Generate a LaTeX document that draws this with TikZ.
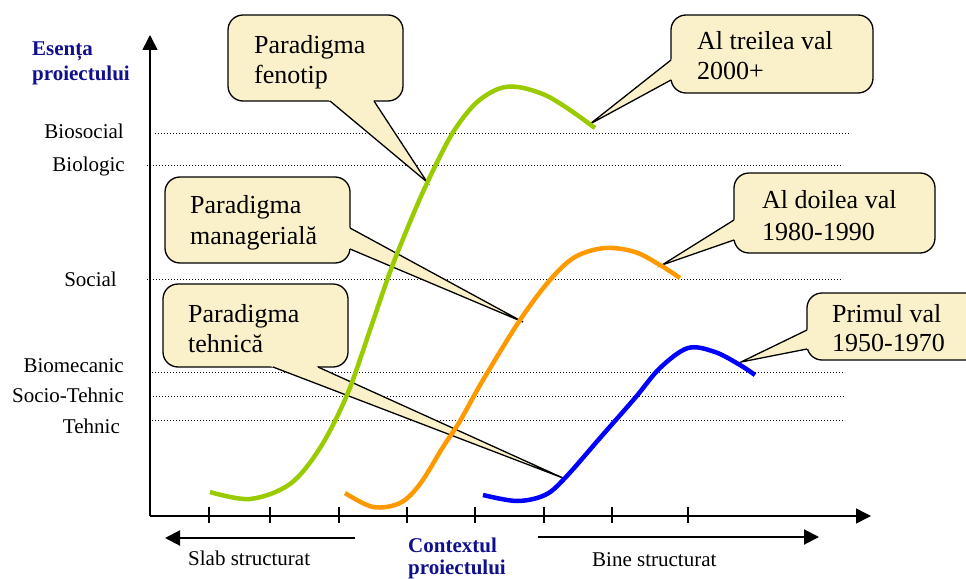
\documentclass[tikz,border=0pt]{standalone}
\usepackage{fontspec}
\setmainfont{Liberation Serif}
\usetikzlibrary{arrows.meta,calc}
\definecolor{cfill}{RGB}{250,240,202}
\definecolor{navy}{RGB}{16,16,140}
\definecolor{cgreen}{RGB}{153,204,0}
\definecolor{corange}{RGB}{255,153,0}
\definecolor{cblue}{RGB}{0,0,255}
\newcommand\mytail[3]{%
  \fill[cfill] ($(#1)!-5pt!(#3)$) -- (#3) -- ($(#2)!-5pt!(#3)$) -- cycle;
  \draw[tailline] (#1) -- (#3) -- (#2);}
\begin{document}
\begin{tikzpicture}[x=1pt,y=-1pt,
  guide/.style={line width=1pt, dash pattern=on 1pt off 2pt},
  axisline/.style={line width=1.5pt},
  cbox/.style={draw=black, line width=1.3pt, fill=cfill, rounded corners=15pt, inner sep=0pt},
  tailline/.style={line width=1.3pt, line join=miter},
  ctext/.style={font=\fontsize{26}{30}\selectfont, inner sep=0pt, anchor=base west},
  ylab/.style={font=\fontsize{21}{25}\selectfont, inner sep=0pt, anchor=base east},
  blab/.style={font=\fontsize{21}{25}\selectfont, inner sep=0pt, anchor=base west},
  title/.style={font=\fontsize{21}{25}\selectfont\bfseries, text=navy, inner sep=0pt, anchor=base west},
  curve/.style={line width=4.5pt, line cap=butt},
  bigtip/.style={-{Triangle[length=15pt,width=15pt]}}
]
\clip (0,0) rectangle (966,578);

% guide lines
\draw[guide] (155,133) -- (850,133);
\draw[guide] (147,165) -- (843,165);
\draw[guide] (147,279) -- (843,279);
\draw[guide] (152,372) -- (845,372);
\draw[guide] (150,396) -- (845,396);
\draw[guide] (152,420) -- (845,420);

% axes
\coordinate (O) at (150,516);
\coordinate (ytip) at (150,35);
\coordinate (xtip) at (871,516);
\draw[axisline, bigtip] (O) -- (ytip);
\draw[axisline, bigtip] (O) -- (xtip);
\foreach \tx in {209,270,339,407,475,544,612,688}
  \draw[axisline] (\tx,507) -- (\tx,523);

% bottom arrows
\coordinate (la0) at (355,538);
\coordinate (la1) at (165,538);
\coordinate (ra0) at (538,537);
\coordinate (ra1) at (819,537);
\draw[line width=2pt, bigtip] (la0) -- (la1);
\draw[line width=2pt, bigtip] (ra0) -- (ra1);

% labels
\node[title] (e1) at (32,56) {Esența};
\node[title] (e2) at (32,81) {proiectului};
\node[ylab] (l1) at (124,138) {Biosocial};
\node[ylab] (l2) at (125,171) {Biologic};
\node[ylab] (l3) at (117,286) {Social};
\node[ylab] (l4) at (124,372) {Biomecanic};
\node[ylab] (l5) at (124,402) {Socio-Tehnic};
\node[ylab] (l6) at (120,433) {Tehnic};
\node[blab] (s1) at (188,565) {Slab structurat};
\node[blab] (s2) at (592,566) {Bine structurat};
\node[title] (c1) at (408,552) {Contextul};
\node[title] (c2) at (408,574) {proiectului};

% callouts
\node[cbox, minimum width=175pt, minimum height=86pt] (fen) at (315.5,58) {};
\coordinate (fa) at (330,101); \coordinate (fb) at (374,101); \coordinate (ft) at (427,182);
\mytail{fa}{fb}{ft}
\node[cbox, minimum width=202pt, minimum height=78pt] (tre) at (772,54) {};
\coordinate (ta) at (671,60); \coordinate (tb) at (671,80); \coordinate (tt) at (590,124);
\mytail{ta}{tb}{tt}
\node[cbox, minimum width=201pt, minimum height=80pt] (doi) at (834.5,213) {};
\coordinate (da) at (734,220); \coordinate (db) at (734,240); \coordinate (dt) at (662,265);
\mytail{da}{db}{dt}
\node[cbox, minimum width=200pt, minimum height=67pt] (pri) at (907,326.5) {};
\coordinate (pa) at (807,330); \coordinate (pb) at (807,349); \coordinate (pt) at (741,362);
\mytail{pa}{pb}{pt}
\node[cbox, minimum width=185pt, minimum height=86pt] (man) at (257.5,220) {};
\coordinate (ma) at (350,228); \coordinate (mb) at (350,249); \coordinate (mt) at (523,322);
\mytail{ma}{mb}{mt}
\node[cbox, minimum width=185pt, minimum height=83pt] (teh) at (255.5,325.5) {};
\coordinate (ha) at (273,367); \coordinate (hb) at (318,367); \coordinate (ht) at (563,478);
\mytail{ha}{hb}{ht}

\node[ctext] (fen1) at (254,53) {Paradigma};
\node[ctext] (fen2) at (254,83) {fenotip};
\node[ctext] (tre1) at (697,49) {Al treilea val};
\node[ctext] (tre2) at (697,80) {2000+};
\node[ctext] (doi1) at (762,208) {Al doilea val};
\node[ctext] (doi2) at (762,240) {1980-1990};
\node[ctext] (pri1) at (832,322) {Primul val};
\node[ctext] (pri2) at (832,351) {1950-1970};
\node[ctext] (man1) at (190,213) {Paradigma};
\node[ctext] (man2) at (190,244) {managerială};
\node[ctext] (teh1) at (188,322) {Paradigma};
\node[ctext] (teh2) at (188,352) {tehnică};

% curves
\draw[curve, cgreen] plot[smooth, tension=0.55] coordinates {(210,492) (250,499) (290,484) (320,448) (347,395) (370,330) (390,272) (410,222) (428,181) (452,134) (475,104) (498,89) (518,87) (545,95) (570,110) (595,128)};
\draw[curve, corange] plot[smooth, tension=0.55] coordinates {(345,493) (373,507) (400,503) (420,484) (443,447) (460,421) (483,380) (520,320) (550,280) (575,257) (605,248) (635,252) (660,265) (680,278)};
\draw[curve, cblue] plot[smooth, tension=0.55] coordinates {(483,495) (517,501) (545,495) (565,478) (600,438) (635,398) (660,368) (688,348) (715,352) (740,365) (755,375)};
\end{tikzpicture}
\end{document}
